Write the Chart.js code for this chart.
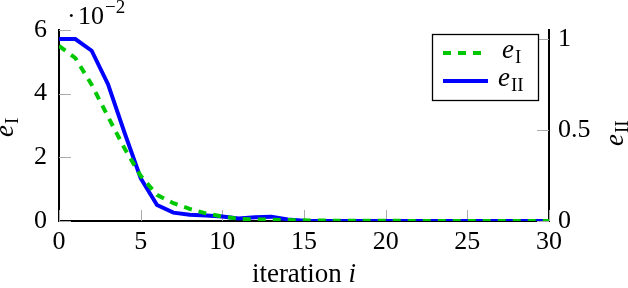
<!DOCTYPE html>
<html>
<head>
<meta charset="utf-8">
<script src="https://cdn.jsdelivr.net/npm/chart.js@4/dist/chart.umd.min.js"></script>
<style>
html, body { margin: 0; padding: 0; background: #fff; }
#wrap { width: 628px; height: 288px; }
</style>
</head>
<body>
<div id="wrap"><canvas id="chart"></canvas></div>
<script>
// data
const iterations = [0, 1, 2, 3, 4, 5, 6, 7, 8, 9, 10, 11, 12, 13, 14, 15, 16, 17, 18, 19, 20,
    21, 22, 23, 24, 25, 26, 27, 28, 29, 30]
// e_I in units of 10^-2 (left axis)
const errI = [5.5, 5.12, 4.28, 3.28, 2.29, 1.42, 0.82, 0.56, 0.38, 0.24, 0.14, 0.07, 0.05, 0.04, 0.03,
    0.02, 0.015, 0.01, 0.01, 0.01, 0.005, 0.005, 0, 0, 0, 0, 0, 0, 0, 0, 0]
// e_II (right axis)
const errII = [1.0, 1.0, 0.936, 0.752, 0.488, 0.235, 0.088, 0.046, 0.035, 0.03, 0.025, 0.014, 0.02, 0.024, 0.008,
    0.002, 0, 0, 0, 0, 0, 0, 0, 0, 0, 0, 0, 0, 0, 0, 0]
const xTicks = [0, 5, 10, 15, 20, 25, 30]
const leftTicks = [0, 2, 4, 6]
const rightTicks = [0, 0.5, 1]

const SERIF = '"Liberation Serif", "DejaVu Serif", serif'
const green = '#00c800'
const blue = '#0000ff'
Chart.defaults.font.family = SERIF

function fixTicks(list) {
    return (scale) => { scale.ticks = list.map(v => ({ value: v })) }
}

// draws "e" with a roman subscript, starting at x, baseline y (current transform)
function drawSub(ctx, x, y, main, sub, size) {
    ctx.font = `italic ${size}px ${SERIF}`
    ctx.fillText(main, x, y)
    let w = ctx.measureText(main).width
    ctx.font = `${Math.round(size * 0.7)}px ${SERIF}`
    ctx.fillText(sub, x + w + 1, y + size * 0.2)
    return w + 1 + ctx.measureText(sub).width
}

const decorations = {
    id: 'decorations',
    beforeDatasetsDraw(chart) {
        const ctx = chart.ctx
        const { x, y, y2 } = chart.scales
        const area = chart.chartArea
        ctx.save()
        ctx.strokeStyle = '#aaaaaa'
        ctx.lineWidth = 1
        ctx.beginPath()
        xTicks.forEach(v => {
            let px = Math.round(x.getPixelForValue(v)) + 0.5
            ctx.moveTo(px, area.bottom)
            ctx.lineTo(px, area.bottom - 11)
        })
        leftTicks.forEach(v => {
            let py = Math.round(y.getPixelForValue(v)) + 0.5
            ctx.moveTo(area.left, py)
            ctx.lineTo(area.left + 12, py)
        })
        rightTicks.forEach(v => {
            let py = Math.round(y2.getPixelForValue(v)) + 0.5
            ctx.moveTo(area.right, py)
            ctx.lineTo(area.right - 12, py)
        })
        ctx.stroke()
        ctx.restore()
    },
    afterDraw(chart) {
        const ctx = chart.ctx
        const area = chart.chartArea
        const sets = chart.data.datasets
        ctx.save()
        ctx.fillStyle = '#000'
        ctx.textBaseline = 'alphabetic'

        // x axis title
        ctx.font = `27px ${SERIF}`
        let t1 = 'iteration '
        let w1 = ctx.measureText(t1).width
        ctx.font = `italic 27px ${SERIF}`
        let w2 = ctx.measureText('i').width
        let sx = (area.left + area.right) / 2 - (w1 + w2) / 2
        ctx.font = `27px ${SERIF}`
        ctx.fillText(t1, sx, 282)
        ctx.font = `italic 27px ${SERIF}`
        ctx.fillText('i', sx + w1, 282)

        // y axis titles
        ctx.save()
        ctx.translate(13, 137)
        ctx.rotate(-Math.PI / 2)
        drawSub(ctx, 0, 0, 'e', 'I', 27)
        ctx.restore()
        ctx.save()
        ctx.translate(623, 146)
        ctx.rotate(-Math.PI / 2)
        drawSub(ctx, 0, 0, 'e', 'II', 27)
        ctx.restore()

        // scale factor label
        ctx.font = `26px ${SERIF}`
        ctx.fillText('·', 67, 24)
        ctx.fillText('10', 78, 24)
        let wf = ctx.measureText('10').width
        ctx.font = `19px ${SERIF}`
        ctx.fillText('−2', 78 + wf + 1, 13)

        // legend
        ctx.fillStyle = '#fff'
        ctx.fillRect(432, 34, 106, 66)
        ctx.strokeStyle = '#000'
        ctx.lineWidth = 1.3
        ctx.strokeRect(432.5, 34.5, 106, 66)
        const rows = [{ ds: sets[0], y: 53, tx: 502, sub: 'I' }, { ds: sets[1], y: 81, tx: 498, sub: 'II' }]
        rows.forEach(r => {
            ctx.strokeStyle = r.ds.borderColor
            ctx.lineWidth = r.ds.borderWidth
            ctx.setLineDash(r.ds.borderDash || [])
            ctx.beginPath()
            ctx.moveTo(443, r.y)
            ctx.lineTo(488, r.y)
            ctx.stroke()
            ctx.setLineDash([])
            ctx.fillStyle = '#000'
            drawSub(ctx, r.tx, r.y + 5, 'e', r.sub, 27)
        })
        ctx.restore()
    }
}

const tickFont = { family: SERIF, size: 26 }
const plain = (v) => String(v)

new Chart(document.getElementById('chart'), {
    type: 'line',
    data: {
        datasets: [
            {
                label: 'e_I',
                data: iterations.map((it, i) => ({ x: it, y: errI[i] })),
                yAxisID: 'y',
                borderColor: green,
                borderWidth: 4,
                borderDash: [8, 7],
                pointRadius: 0,
                tension: 0,
                fill: false
            },
            {
                label: 'e_II',
                data: iterations.map((it, i) => ({ x: it, y: errII[i] })),
                yAxisID: 'y2',
                borderColor: blue,
                borderWidth: 4,
                pointRadius: 0,
                tension: 0,
                fill: false
            }
        ]
    },
    options: {
        responsive: true,
        maintainAspectRatio: false,
        animation: false,
        layout: { padding: { top: 30, left: 0, right: 0, bottom: 0 } },
        plugins: {
            legend: { display: false },
            tooltip: { enabled: false }
        },
        scales: {
            x: {
                type: 'linear',
                min: 0,
                max: 30,
                afterBuildTicks: fixTicks(xTicks),
                afterFit: (s) => { s.height = 67 },
                grid: { display: false, drawTicks: false },
                border: { display: true, color: '#000', width: 2 },
                ticks: { padding: 6, color: '#000', font: tickFont, callback: plain }
            },
            y: {
                position: 'left',
                min: 0,
                max: 6,
                afterBuildTicks: fixTicks(leftTicks),
                afterFit: (s) => { s.width = 59 },
                grid: { display: false, drawTicks: false },
                border: { display: true, color: '#000', width: 2 },
                ticks: { padding: 12, color: '#000', font: tickFont, callback: plain }
            },
            y2: {
                position: 'right',
                min: 0,
                max: 1.05,
                afterBuildTicks: fixTicks(rightTicks),
                afterFit: (s) => { s.width = 79 },
                grid: { display: false, drawTicks: false },
                border: { display: true, color: '#000', width: 2 },
                ticks: { padding: 9, color: '#000', font: tickFont, callback: plain }
            }
        }
    },
    plugins: [decorations]
});
</script>
</body>
</html>
